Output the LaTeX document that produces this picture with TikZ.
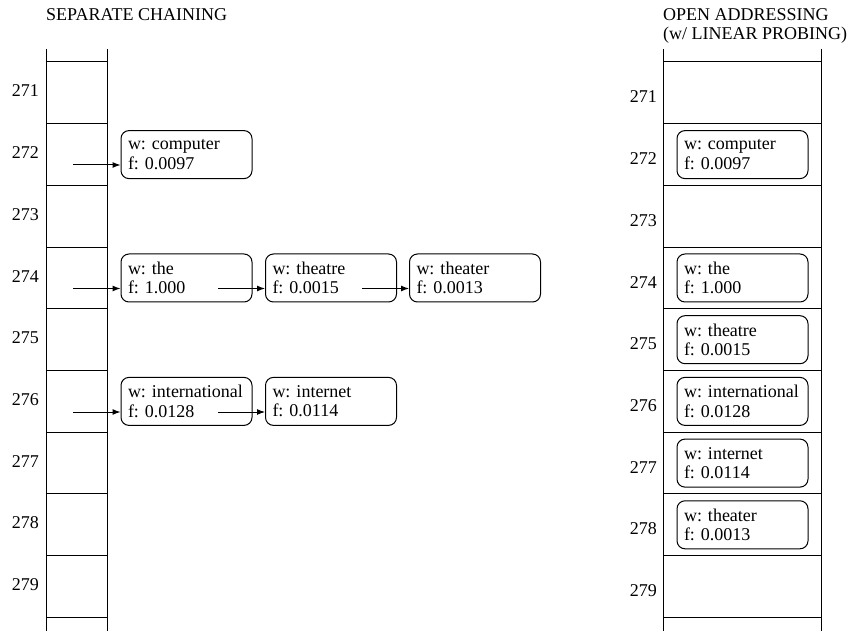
\documentclass[tikz,border=0pt]{standalone}
\usepackage{fontspec}
\setmainfont{Liberation Serif}
\usetikzlibrary{arrows.meta}
\hyphenpenalty=10000

\begin{document}
\begin{tikzpicture}[
  x=1pt, y=-1pt,
  every node/.style={font=\fontsize{18}{19.5}\selectfont\frenchspacing},
  rec/.style={draw,rounded corners=8pt,align=left,text width=117pt,inner xsep=7pt,inner ysep=0pt,minimum height=48pt,line width=1pt},
  lbl/.style={anchor=east,inner sep=0pt},
  ttl/.style={anchor=base west,inner sep=0pt},
  ptr/.style={-{Latex[length=8pt,width=6pt]},line width=1pt},
  grid/.style={line width=1pt},
]
  \useasboundingbox (0,0) rectangle (852,631);
  % titles
  \node[ttl] (t1) at (46,21) {SEPARATE CHAINING};
  \node[ttl] (t2) at (663,21) {OPEN ADDRESSING};
  \node[ttl] (t3) at (663,40) {(w/ LINEAR PROBING)};
  % the two tables
  \draw[grid] (46,49) -- (46,631) (107,49) -- (107,631);
  \draw[grid] (663,49) -- (663,631) (821,49) -- (821,631);
  \foreach \i in {0,...,9} {
    \draw[grid] (46,62+61.7*\i) -- (107,62+61.7*\i);
    \draw[grid] (663,62+61.7*\i) -- (821,62+61.7*\i);
  }
  \foreach \k [count=\i from 0] in {271,...,279} {
    \node[lbl] (sl\k) at (39,91+61.7*\i) {\k};
    \node[lbl] (ol\k) at (657,97+61.7*\i) {\k};
  }
  % separate chaining
  \node[rec] (sa272) at (186.5,154.6) {w: computer\\f: 0.0097};
  \node[rec] (sa274) at (186.5,278)   {w: the\\f: 1.000};
  \node[rec] (sb274) at (331,278)     {w: theatre\\f: 0.0015};
  \node[rec] (sc274) at (475,278)     {w: theater\\f: 0.0013};
  \node[rec] (sa276) at (186.5,401.4) {w: international\\f: 0.0128};
  \node[rec] (sb276) at (331,401.4)   {w: internet\\f: 0.0114};
  \coordinate (p272) at (73,165);
  \coordinate (p274) at (73,288.5);
  \coordinate (p276) at (73,412);
  \coordinate (q274) at (218,288.5);
  \coordinate (r274) at (362,288.5);
  \coordinate (q276) at (218,412);
  \draw[ptr] (p272) -- (p272 -| sa272.west);
  \draw[ptr] (p274) -- (p274 -| sa274.west);
  \draw[ptr] (q274) -- (q274 -| sb274.west);
  \draw[ptr] (r274) -- (r274 -| sc274.west);
  \draw[ptr] (p276) -- (p276 -| sa276.west);
  \draw[ptr] (q276) -- (q276 -| sb276.west);
  % open addressing
  \node[rec] (ob272) at (742.5,154.6) {w: computer\\f: 0.0097};
  \node[rec] (ob274) at (742.5,278)   {w: the\\f: 1.000};
  \node[rec] (ob275) at (742.5,339.7) {w: theatre\\f: 0.0015};
  \node[rec] (ob276) at (742.5,401.4) {w: international\\f: 0.0128};
  \node[rec] (ob277) at (742.5,463.1) {w: internet\\f: 0.0114};
  \node[rec] (ob278) at (742.5,524.8) {w: theater\\f: 0.0013};
\end{tikzpicture}
\end{document}
